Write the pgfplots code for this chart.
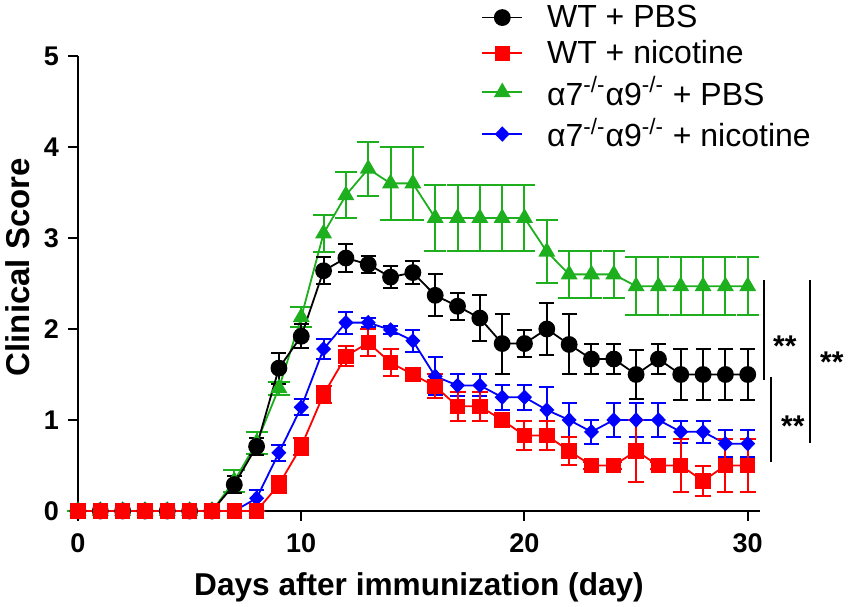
\documentclass[border=0pt]{standalone}
\usepackage{pgfplots}
\pgfplotsset{compat=1.18}
\usepackage{fontspec}
\setmainfont{Liberation Sans}
\definecolor{cblack}{RGB}{0,0,0}
\definecolor{cred}{RGB}{255,0,0}
\definecolor{cgreen}{RGB}{30,175,30}
\definecolor{cblue}{RGB}{0,0,255}
\pgfplotstableread{
d v e
0 0 0
1 0 0
2 0 0
3 0 0
4 0 0
5 0 0
6 0 0
7 0.29 0.09
8 0.71 0.09
9 1.57 0.17
10 1.92 0.13
11 2.64 0.15
12 2.78 0.15
13 2.71 0.09
14 2.57 0.12
15 2.62 0.13
16 2.37 0.23
17 2.25 0.15
18 2.12 0.25
19 1.84 0.33
20 1.84 0.15
21 2.00 0.29
22 1.83 0.33
23 1.67 0.16
24 1.67 0.16
25 1.50 0.27
26 1.67 0.16
27 1.50 0.28
28 1.50 0.28
29 1.50 0.28
30 1.50 0.28
}\wtpbs
\pgfplotstableread{
d v e
0 0 0
1 0 0
2 0 0
3 0 0
4 0 0
5 0 0
6 0 0
7 0 0
8 0 0
9 0.29 0.09
10 0.71 0.09
11 1.28 0.09
12 1.70 0.11
13 1.85 0.15
14 1.63 0.15
15 1.50 0.05
16 1.37 0.13
17 1.15 0.16
18 1.15 0.16
19 1.00 0.05
20 0.83 0.16
21 0.83 0.16
22 0.66 0.15
23 0.50 0.04
24 0.50 0.04
25 0.66 0.34
26 0.50 0.04
27 0.50 0.29
28 0.33 0.16
29 0.50 0.29
30 0.50 0.29
}\wtnic
\pgfplotstableread{
d v e
0 0 0
1 0 0
2 0 0
3 0 0
4 0 0
5 0 0
6 0 0
7 0.33 0.12
8 0.75 0.12
9 1.35 0.07
10 2.13 0.11
11 3.05 0.20
12 3.47 0.25
13 3.76 0.30
14 3.60 0.40
15 3.60 0.40
16 3.22 0.36
17 3.22 0.36
18 3.22 0.36
19 3.22 0.36
20 3.22 0.36
21 2.85 0.35
22 2.60 0.26
23 2.60 0.26
24 2.60 0.26
25 2.47 0.32
26 2.47 0.32
27 2.47 0.32
28 2.47 0.32
29 2.47 0.32
30 2.47 0.32
}\kopbs
\pgfplotstableread{
d v e
0 0 0
1 0 0
2 0 0
3 0 0
4 0 0
5 0 0
6 0 0
7 0 0
8 0.14 0.09
9 0.64 0.09
10 1.14 0.09
11 1.78 0.11
12 2.07 0.12
13 2.07 0.05
14 1.99 0.04
15 1.87 0.12
16 1.48 0.21
17 1.38 0.12
18 1.38 0.12
19 1.25 0.14
20 1.25 0.14
21 1.11 0.25
22 1.00 0.19
23 0.87 0.13
24 1.00 0.19
25 1.00 0.19
26 1.00 0.19
27 0.87 0.12
28 0.87 0.12
29 0.74 0.15
30 0.74 0.15
}\konic
\begin{document}
\begin{tikzpicture}
\begin{axis}[
  name=ax,
  scale only axis,
  width=341pt, height=227.5pt,
  xmin=0, xmax=30.55, ymin=0, ymax=5,
  axis lines=left,
  axis line style={-, line width=1pt},
  xtick={0,10,20,30}, ytick={0,1,2,3,4,5},
  minor tick num=0,
  tick align=outside,
  major tick length=5pt,
  tick style={line width=1pt, black},
  /pgf/number format/assume math mode=true,
  ticklabel style={font=\fontsize{13.5}{16}\selectfont\bfseries},
  xticklabel style={yshift=-3pt},
  yticklabel style={xshift=-1pt},
  xlabel={Days after immunization (day)},
  ylabel={Clinical Score},
  xlabel style={font=\fontsize{15.8}{18}\selectfont\bfseries, at={(axis description cs:0.5,-0.167)}, anchor=center},
  ylabel style={font=\fontsize{16.5}{19}\selectfont\bfseries, at={(axis description cs:-0.088,0.536)}, anchor=center},
  clip=false,
  legend style={draw=none, fill=none, at={(rel axis cs:0.591,1.122)}, anchor=north west,
    font=\fontsize{16}{19}\selectfont, row sep=1pt, column sep=10pt, inner sep=0pt},
  legend cell align=left,
  legend image code/.code={\draw[mark repeat=2,mark phase=2] plot coordinates {(0cm,0cm) (0.35cm,0cm) (0.7cm,0cm)};},
  error bars/error bar style={line width=1pt},
]
\addlegendimage{cblack, line width=0.9pt, mark=*, mark size=3.75pt, mark options={solid}}
\addlegendentry{WT + PBS}
\addlegendimage{cred, line width=0.9pt, mark=square*, mark size=3.4pt, mark options={solid}}
\addlegendentry{WT + nicotine}
\addlegendimage{cgreen, line width=0.9pt, mark=triangle*, mark size=4pt, mark options={solid}}
\addlegendentry{α7\textsuperscript{-/-}α9\textsuperscript{-/-} + PBS}
\addlegendimage{cblue, line width=0.9pt, mark=diamond*, mark size=3.2pt, mark options={solid, xscale=1.3}}
\addlegendentry{α7\textsuperscript{-/-}α9\textsuperscript{-/-} + nicotine}

\addplot[forget plot, cgreen, line width=0.9pt, mark=triangle*, mark size=4pt,
  error bars/.cd, y dir=both, y explicit, error mark options={rotate=90, mark size=5.5pt, line width=1pt, cgreen}]
  table[x=d, y=v, y error=e] {\kopbs};
\addplot[forget plot, cblue, line width=0.9pt, mark=diamond*, mark size=3.2pt, mark options={xscale=1.3},
  error bars/.cd, y dir=both, y explicit, error mark options={rotate=90, mark size=3.75pt, line width=1pt, cblue}]
  table[x=d, y=v, y error=e] {\konic};
\addplot[forget plot, cblack, line width=0.9pt, mark=*, mark size=3.75pt,
  error bars/.cd, y dir=both, y explicit, error mark options={rotate=90, mark size=3.75pt, line width=1pt, cblack}]
  table[x=d, y=v, y error=e] {\wtpbs};
\addplot[forget plot, cred, line width=0.9pt, mark=square*, mark size=3.4pt,
  error bars/.cd, y dir=both, y explicit, error mark options={rotate=90, mark size=4pt, line width=1pt, cred}]
  table[x=d, y=v, y error=e] {\wtnic};

\draw[line width=1pt] (axis cs:30.72,2.54) -- (axis cs:30.72,1.44);
\draw[line width=1pt] (axis cs:31.03,1.47) -- (axis cs:31.03,0.54);
\draw[line width=1pt] (axis cs:32.78,2.54) -- (axis cs:32.78,0.75);
\node[font=\fontsize{15}{18}\selectfont\bfseries, anchor=center, yshift=-3.3pt] at (axis cs:31.66,1.88) {**};
\node[font=\fontsize{15}{18}\selectfont\bfseries, anchor=center, yshift=-3.3pt] at (axis cs:32.02,1.00) {**};
\node[font=\fontsize{15}{18}\selectfont\bfseries, anchor=center, yshift=-3.3pt] at (axis cs:33.77,1.71) {**};
\end{axis}
\pgfresetboundingbox
\path[use as bounding box] ([xshift=-39pt,yshift=-48pt]ax.south west) rectangle ([xshift=45pt,yshift=28pt]ax.north east);
\end{tikzpicture}
\end{document}
